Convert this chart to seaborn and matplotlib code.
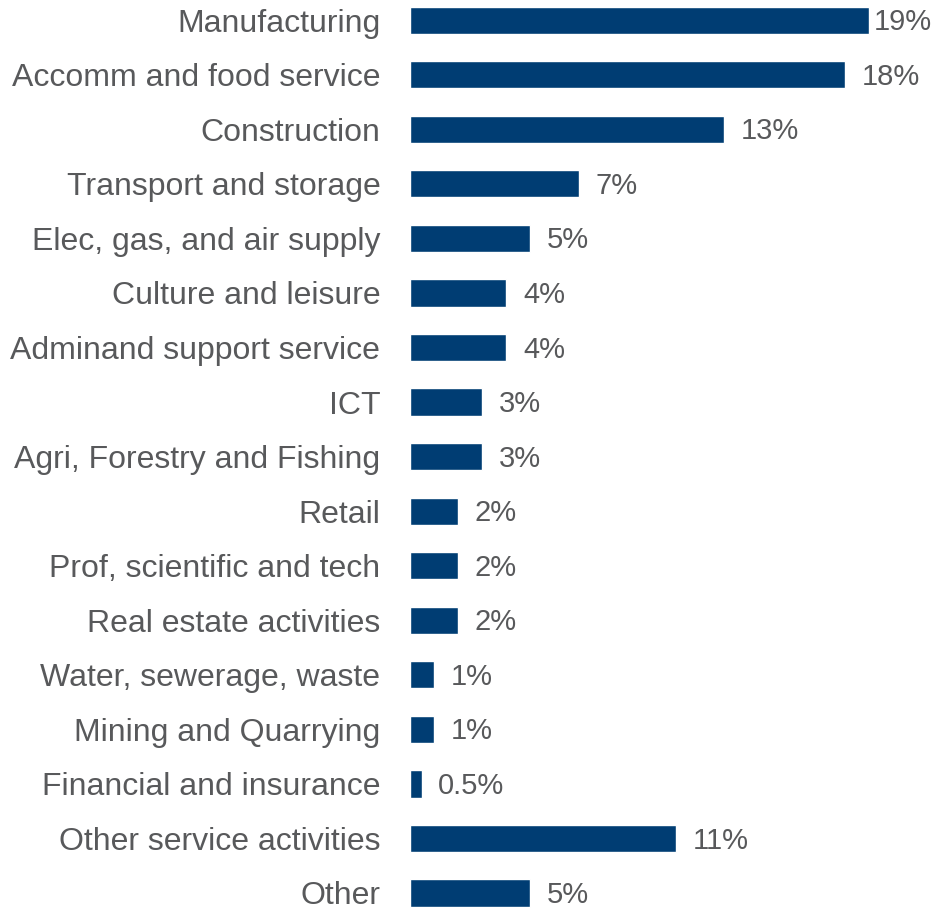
import matplotlib
matplotlib.use("Agg")
import matplotlib.pyplot as plt
import seaborn as sns
import pandas as pd

sectors = [
    "Manufacturing",
    "Accomm and food service",
    "Construction",
    "Transport and storage",
    "Elec, gas, and air supply",
    "Culture and leisure",
    "Adminand support service",
    "ICT",
    "Agri, Forestry and Fishing",
    "Retail",
    "Prof, scientific and tech",
    "Real estate activities",
    "Water, sewerage, waste",
    "Mining and Quarrying",
    "Financial and insurance",
    "Other service activities",
    "Other",
]
shares = [19, 18, 13, 7, 5, 4, 4, 3, 3, 2, 2, 2, 1, 1, 0.5, 11, 5]
share_labels = ["19%", "18%", "13%", "7%", "5%", "4%", "4%", "3%", "3%",
                "2%", "2%", "2%", "1%", "1%", "0.5%", "11%", "5%"]

BAR_COLOR = "#003d73"
TEXT_COLOR = "#58595b"

sns.set_style("white")
plt.rcParams["font.family"] = ["Liberation Sans", "DejaVu Sans"]

df = pd.DataFrame({"sector": sectors, "share": shares})

fig = plt.figure(figsize=(9.32, 9.08), dpi=100)
ax = fig.add_axes([409.5 / 932, 0.0, 522.5 / 932, 1.0])

sns.barplot(data=df, x="share", y="sector", orient="h", color=BAR_COLOR,
            saturation=1, width=0.5, ax=ax)

ax.set_xlim(0, 21.6)
ax.set_ylim(16.275, -0.37)
ax.set_xlabel("")
ax.set_ylabel("")
ax.set_xticks([])
ax.tick_params(axis="y", length=0, pad=21, labelsize=23, labelcolor=TEXT_COLOR)
for s in ax.spines.values():
    s.set_visible(False)

top = max(shares)
for i, (v, lab) in enumerate(zip(shares, share_labels)):
    pad = 3 if v == top else 12
    ax.annotate(lab, xy=(v, i), xytext=(pad, -1.5), textcoords="offset points",
                ha="left", va="center", fontsize=21, color=TEXT_COLOR,
                annotation_clip=False)

fig.savefig("out.png", dpi=100)
